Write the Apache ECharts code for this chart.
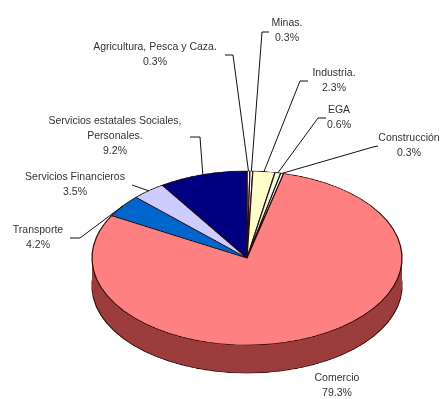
<!DOCTYPE html>
<html><head><meta charset="utf-8">
<script src="https://cdn.jsdelivr.net/npm/echarts@6/dist/echarts.min.js"></script>
<style>
html,body{margin:0;padding:0;background:#fff}
#wrap{position:relative;width:443px;height:399px;overflow:hidden;background:#fff}
#pie{position:absolute;left:0;top:0;width:443px;transform-origin:0 0}
#lab{position:absolute;left:0;top:0;width:443px;height:399px}
</style></head>
<body><div id="wrap"><div id="pie"></div><div id="lab"></div></div>
<script>
// ---- data ----
const categories = ['Agricultura, Pesca y Caza.', 'Minas.', 'Industria.', 'EGA', 'Construcción', 'Comercio', 'Transporte', 'Servicios Financieros', 'Servicios estatales Sociales,\nPersonales.'];
const values = [0.3, 0.3, 2.3, 0.6, 0.3, 79.3, 4.2, 3.5, 9.2];

// ---- styles / layout ----
const topColors = ['#ffffff', '#ffffff', '#ffffcc', '#e8ffe0', '#ffffff', '#ff8080', '#0066cc', '#ccccff', '#000080'];
const sideColor = '#9c3c3c';
const CX = 247, CY = 258, RX = 155, RY = 87, DEPTH = 28;
const K = RY / RX;
const labelPlaces = [
  {x:155, y:55, line:[[233,55],[225,55]]},
  {x:287, y:31, line:[[262,32],[269,32]]},
  {x:334, y:81, line:[[300,81],[308,81]]},
  {x:339, y:118, line:[[318,118],[326,118]]},
  {x:409, y:146, line:[[373,147],[378,146]]},
  {x:337, y:386, line:null},
  {x:38, y:238, line:[[80,238],[70,238]]},
  {x:75, y:185, line:[[132,185]]},
  {x:115, y:136, line:[[200,137],[190,137]]}
];

const pieDiv = document.getElementById('pie');
pieDiv.style.height = (399 / K) + 'px';
pieDiv.style.transform = 'scaleY(' + K + ')';

const dataItems = categories.map((c, i) => ({name: c, value: values[i]}));

function layer(offset, colors, border, z) {
  return {
    type: 'pie', silent: true, z: z,
    center: [CX, (CY + offset) / K], radius: RX,
    startAngle: 90, clockwise: true, avoidLabelOverlap: false,
    label: {show: false}, labelLine: {show: false},
    emphasis: {disabled: true},
    itemStyle: {borderColor: border ? '#2a0a0a' : 'transparent', borderWidth: border ? 1.2 : 0},
    data: dataItems.map((d, i) => ({name: d.name, value: d.value, itemStyle: {color: colors[i]}}))
  };
}
const series = [];
series.push(layer(DEPTH, categories.map(() => sideColor), true, 1));
for (let d = DEPTH - 2; d > 0; d -= 2) series.push(layer(d, categories.map(() => sideColor), false, 2));
series.push(layer(0, topColors, true, 3));

const chartA = echarts.init(pieDiv, null, {renderer: 'canvas'});
chartA.setOption({animation: false, backgroundColor: 'transparent', series: series});

const chartB = echarts.init(document.getElementById('lab'), null, {renderer: 'canvas'});
chartB.setOption({
  animation: false,
  backgroundColor: 'transparent',
  series: [{
    type: 'pie', silent: true,
    center: [CX, CY], radius: RX,
    startAngle: 90, clockwise: true, avoidLabelOverlap: false,
    itemStyle: {color: 'rgba(0,0,0,0)', borderWidth: 0},
    emphasis: {disabled: true},
    label: {
      show: true,
      formatter: p => p.name + '\n' + p.value + '%',
      fontFamily: 'Liberation Sans, Arial, sans-serif',
      fontSize: 10.5, lineHeight: 15, color: '#333', align: 'center'
    },
    labelLine: {show: true, length: 10, length2: 10, lineStyle: {color: '#111', width: 1}},
    labelLayout: function (p) {
      const L = labelPlaces[p.dataIndex];
      const out = {x: L.x, y: L.y, align: 'center', verticalAlign: 'middle'};
      if (L.line && p.labelLinePoints) {
        const e = p.labelLinePoints[0];
        out.labelLinePoints = [[e[0], CY + (e[1] - CY) * K]].concat(L.line);
      }
      return out;
    },
    data: dataItems.map((d, i) => i === 5 ? {name: d.name, value: d.value, labelLine: {show: false}} : d)
  }]
});
</script>
</body></html>
